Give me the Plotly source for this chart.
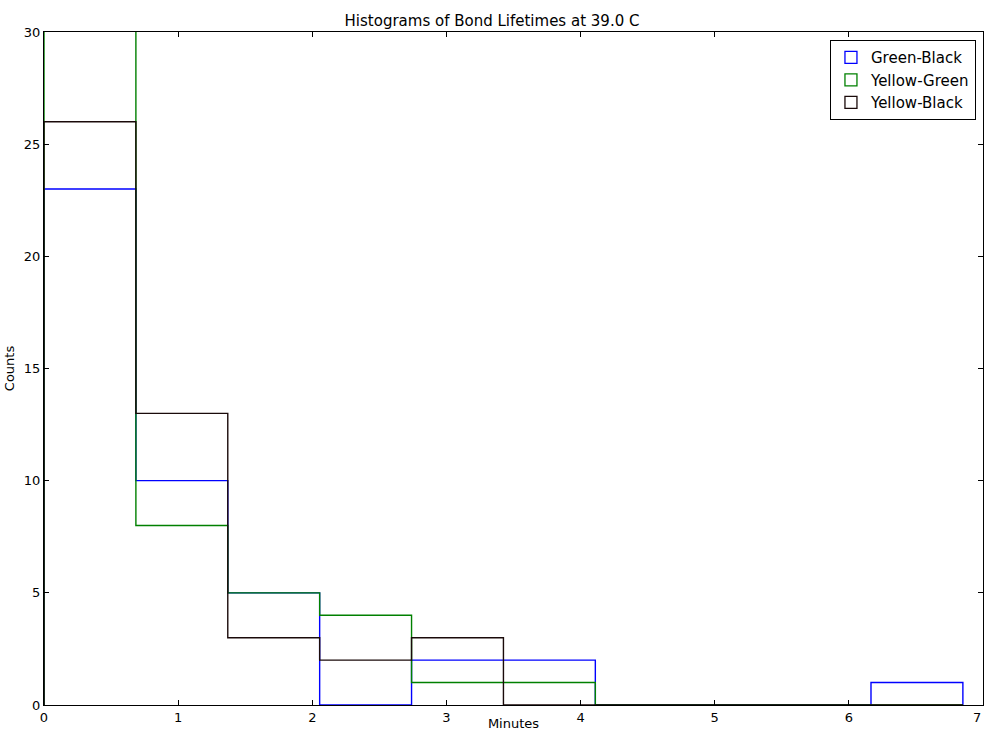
import plotly.graph_objects as go

bin_edges = [0.0, 0.685, 1.37, 2.055, 2.74, 3.425, 4.11, 4.795, 5.48, 6.165, 6.85]
series_names = ["Green-Black", "Yellow-Green", "Yellow-Black"]
green_black = [23, 10, 5, 0, 2, 2, 0, 0, 0, 1]
yellow_green = [31, 8, 5, 4, 1, 1, 0, 0, 0, 0]
yellow_black = [26, 13, 3, 2, 3, 0, 0, 0, 0, 0]
colors = ["#0000ff", "#008000", "#1a0a0a"]
x_ticks = [0, 1, 2, 3, 4, 5, 6, 7]
y_ticks = [0, 5, 10, 15, 20, 25, 30]

fig = go.Figure()
for name, counts, col in zip(series_names, [green_black, yellow_green, yellow_black], colors):
    xs = [bin_edges[0]] + bin_edges
    ys = [0] + counts + [0]
    fig.add_trace(go.Scatter(x=xs, y=ys, mode="lines", line=dict(color=col, width=1.4, shape="hv"),
                             showlegend=False, hoverinfo="skip", cliponaxis=True))
for name, col in zip(series_names, colors):
    fig.add_trace(go.Bar(x=[None], y=[None], name=name,
                         marker=dict(color="white", line=dict(color=col, width=1.3))))

axis_common = dict(showgrid=False, zeroline=False, showline=True, linecolor="black", linewidth=1,
                   mirror="ticks", ticks="inside", ticklen=5, tickcolor="black", automargin=True,
                   tickfont=dict(family="DejaVu Sans", size=13, color="black"))
fig.update_layout(
    width=984, height=731,
    margin=dict(l=44, r=1, t=32, b=26, autoexpand=False),
    paper_bgcolor="white", plot_bgcolor="white",
    title=dict(text="Histograms of Bond Lifetimes at 39.0 C", x=0.5, xanchor="center",
               y=1 - 21 / 731, yanchor="middle",
               font=dict(family="DejaVu Sans", size=15, color="black")),
    xaxis=dict(range=[0, 7], tickvals=x_ticks,
               title=dict(text="Minutes", standoff=4, font=dict(family="DejaVu Sans", size=13, color="black")),
               **axis_common),
    yaxis=dict(range=[0, 30], tickvals=y_ticks,
               title=dict(text="Counts", standoff=6, font=dict(family="DejaVu Sans", size=13, color="black")),
               **axis_common),
    legend=dict(x=0.9925, y=0.988, xanchor="right", yanchor="top",
                bgcolor="white", bordercolor="black", borderwidth=1,
                font=dict(family="DejaVu Sans", size=15, color="black"),
                itemwidth=30, tracegroupgap=2),
    showlegend=True,
)
# last x tick label sits at the paper edge; plotly drops it, so show it as text
fig.add_annotation(x=x_ticks[-1], y=0, xref="x", yref="y", text=str(x_ticks[-1]),
                   showarrow=False, yanchor="top", xanchor="right", yshift=-3,
                   font=dict(family="DejaVu Sans", size=13, color="black"))
fig.write_html("out.html", config={"displayModeBar": False},
               post_script="document.body.style.margin='0';document.body.style.overflow='hidden';")
